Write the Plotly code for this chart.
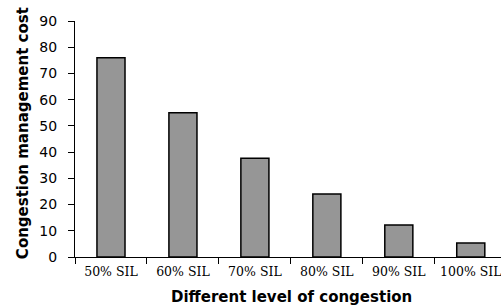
import plotly.graph_objects as go

categories = ["50% SIL", "60% SIL", "70% SIL", "80% SIL", "90% SIL", "100% SIL"]
costs = [76, 55, 37.7, 24, 12.2, 5.3]
y_ticks = [0, 10, 20, 30, 40, 50, 60, 70, 80, 90]

fig = go.Figure(go.Bar(
    x=categories, y=costs, width=0.39,
    marker=dict(color="#969696", line=dict(color="black", width=1.5)),
))

fig.update_layout(
    width=501, height=307,
    margin=dict(l=75, r=0, t=21, b=50, autoexpand=False),
    paper_bgcolor="white", plot_bgcolor="white",
    showlegend=False,
)
fig.update_xaxes(
    range=[-0.5, 5.42], showline=True, linecolor="black", linewidth=1.2,
    ticks="outside", tickson="boundaries", ticklen=6, tickcolor="black",
    tickfont=dict(family="DejaVu Serif", size=12.5, color="black"),
    ticklabelstandoff=3, automargin=False,
)
fig.update_yaxes(
    range=[0, 90], tickvals=y_ticks, showline=True, linecolor="black", linewidth=1.2,
    ticks="outside", ticklen=6, tickcolor="black", showgrid=False, zeroline=False,
    ticklabelstandoff=8, automargin=False,
    tickfont=dict(family="DejaVu Sans", size=14, color="black"),
)
fig.add_annotation(
    text="<b>Congestion management cost</b>", textangle=-90,
    xref="paper", yref="paper", x=-0.122, y=0.525, xanchor="center", yanchor="middle",
    showarrow=False, font=dict(family="DejaVu Sans", size=15, color="black"),
)
fig.add_annotation(
    text="<b>Different level of congestion</b>",
    xref="paper", yref="paper", x=0.508, y=-0.17, xanchor="center", yanchor="middle",
    showarrow=False, font=dict(family="DejaVu Sans", size=15, color="black"),
)

fig.write_html(
    "out.html",
    config={"displayModeBar": False},
    post_script="document.body.style.margin='0';document.body.style.overflow='hidden';",
)
